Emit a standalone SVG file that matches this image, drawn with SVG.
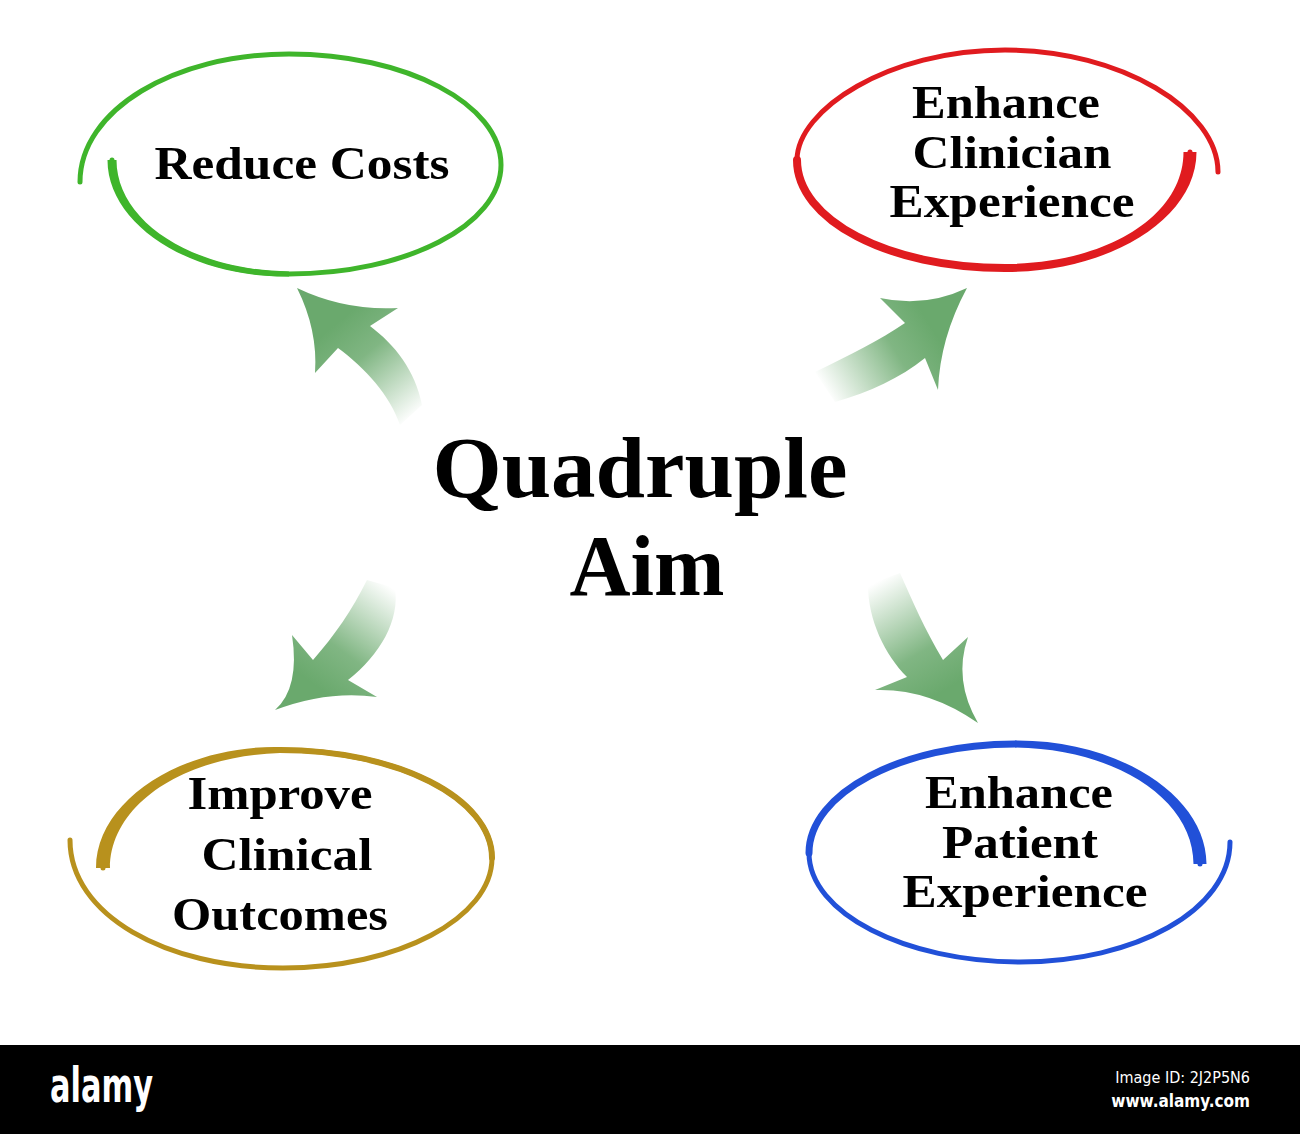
<svg xmlns="http://www.w3.org/2000/svg" width="1300" height="1134" viewBox="0 0 1300 1134">
<style>
.lbl{font-family:"Liberation Serif","Times New Roman",serif;font-weight:bold;fill:#000;text-anchor:middle}
.node{font-size:47px}
.ring{fill:none;stroke-linecap:round;stroke-linejoin:round}
.arrow{stroke:none}
.foot{font-family:"DejaVu Sans Condensed","DejaVu Sans",sans-serif;fill:#fff}
</style>
<defs>
<linearGradient id="g1" gradientUnits="userSpaceOnUse" x1="335" y1="325" x2="412" y2="418">
<stop offset="0" stop-color="#6aa96d" stop-opacity="1"/><stop offset="0.35" stop-color="#6aa96d" stop-opacity="0.85"/><stop offset="1" stop-color="#6aa96d" stop-opacity="0"/>
</linearGradient>
<linearGradient id="g2" gradientUnits="userSpaceOnUse" x1="930" y1="325" x2="825" y2="390">
<stop offset="0" stop-color="#6aa96d" stop-opacity="1"/><stop offset="0.35" stop-color="#6aa96d" stop-opacity="0.85"/><stop offset="1" stop-color="#6aa96d" stop-opacity="0"/>
</linearGradient>
<linearGradient id="g3" gradientUnits="userSpaceOnUse" x1="315" y1="685" x2="388" y2="585">
<stop offset="0" stop-color="#6aa96d" stop-opacity="1"/><stop offset="0.35" stop-color="#6aa96d" stop-opacity="0.85"/><stop offset="1" stop-color="#6aa96d" stop-opacity="0"/>
</linearGradient>
<linearGradient id="g4" gradientUnits="userSpaceOnUse" x1="945" y1="690" x2="880" y2="580">
<stop offset="0" stop-color="#6aa96d" stop-opacity="1"/><stop offset="0.35" stop-color="#6aa96d" stop-opacity="0.85"/><stop offset="1" stop-color="#6aa96d" stop-opacity="0"/>
</linearGradient>
</defs>
<rect x="0" y="0" width="1300" height="1134" fill="#fff"/>

<g id="connectors">
<path class="arrow" fill="url(#g1)" d="M297,288 Q345,311 398,308 L370,326 C395,345 415,370 422,405 L400,425 C390,395 365,368 338,348 L315,373 Q318,330 297,288 Z"/>
<path class="arrow" fill="url(#g2)" d="M967,288 Q925,308 880,298 L905,323 C880,340 850,355 815,372 L835,402 C870,392 900,378 925,358 L938,390 Q940,338 967,288 Z"/>
<path class="arrow" fill="url(#g3)" d="M275,710 Q300,688 292,635 L313,660 C335,635 352,610 367,580 L395,588 C400,620 380,655 348,680 L377,697 Q328,690 275,710 Z"/>
<path class="arrow" fill="url(#g4)" d="M978,723 Q953,680 968,637 L943,660 C925,630 912,600 900,573 L868,585 C868,620 885,655 907,677 L875,690 Q928,688 978,723 Z"/>
</g>

<g id="center">
<text class="lbl" x="640" y="497" font-size="86" textLength="415" lengthAdjust="spacingAndGlyphs">Quadruple</text>
<text class="lbl" x="647" y="595" font-size="86" textLength="155" lengthAdjust="spacingAndGlyphs">Aim</text>
</g>

<g id="reduce-costs">
<path class="ring" stroke="#3fb52b" stroke-width="5" d="M80,182 C80,110 174,54 289,54 C406,54 501,104 501,165 C501,225 406,274 289,274 C191,274 112,223 112,160"/>
<path fill="#3fb52b" d="M289,276.5 C191,278 107.5,225 107.5,160 L116.5,160 C116.5,221 191,270 289,271.5 Z"/>
<text class="lbl node" x="302" y="179" textLength="295" lengthAdjust="spacingAndGlyphs">Reduce Costs</text>
</g>

<g id="enhance-clinician">
<path class="ring" stroke="#e01b1f" stroke-width="5" d="M1218,172 C1218,110 1122,50 1005,50 C888,50 797,110 797,160 C797,220 888,268 1005,268 C1107,268 1190,218 1190,152"/>
<path class="ring" stroke="#e01b1f" stroke-width="8" d="M797,160 C797,220 888,268 1005,268"/>
<path fill="#e01b1f" d="M1005,272 C1107,272.5 1196.5,220 1196.5,152 L1183.5,152 C1183.5,216 1107,263.5 1005,264 Z"/>
<text class="lbl node" x="1006" y="118" textLength="188" lengthAdjust="spacingAndGlyphs">Enhance</text>
<text class="lbl node" x="1012" y="168" textLength="199" lengthAdjust="spacingAndGlyphs">Clinician</text>
<text class="lbl node" x="1012" y="217" textLength="245" lengthAdjust="spacingAndGlyphs">Experience</text>
</g>

<g id="improve-outcomes">
<path class="ring" stroke="#b8911d" stroke-width="5" d="M70,840 C70,915 166,968 283,968 C398,968 492,918 492,858 C492,798 397,750 280,750 C183,750 103,802 103,868"/>
<path class="ring" stroke="#b8911d" stroke-width="6" d="M492,858 C492,798 397,750 280,750"/>
<path fill="#b8911d" d="M280,747 C183,745 96,800 96,868 L110,868 C110,805 183,756 280,753 Z"/>
<text class="lbl node" x="280" y="809" textLength="185" lengthAdjust="spacingAndGlyphs">Improve</text>
<text class="lbl node" x="287" y="870" textLength="171" lengthAdjust="spacingAndGlyphs">Clinical</text>
<text class="lbl node" x="280" y="930" textLength="216" lengthAdjust="spacingAndGlyphs">Outcomes</text>
</g>

<g id="enhance-patient">
<path class="ring" stroke="#2150d8" stroke-width="5" d="M1230,842 C1230,910 1135,962 1020,962 C905,962 809,913 809,853 C809,793 902,744 1015,744 C1117,744 1200,797 1200,864"/>
<path class="ring" stroke="#2150d8" stroke-width="7" d="M809,853 C809,793 902,744 1015,744"/>
<path fill="#2150d8" d="M1015,740.5 C1117,739.5 1206.5,795 1206.5,864 L1193.5,864 C1193.5,800 1117,749 1015,747.5 Z"/>
<text class="lbl node" x="1019" y="808" textLength="188" lengthAdjust="spacingAndGlyphs">Enhance</text>
<text class="lbl node" x="1020" y="858" textLength="156" lengthAdjust="spacingAndGlyphs">Patient</text>
<text class="lbl node" x="1025" y="907" textLength="245" lengthAdjust="spacingAndGlyphs">Experience</text>
</g>

<g id="footer">
<rect x="0" y="1045" width="1300" height="89" fill="#000"/>
<text class="foot" x="50" y="1102" font-size="48" font-weight="bold" textLength="103" lengthAdjust="spacingAndGlyphs">alamy</text>
<text class="foot" x="1250" y="1083" font-size="16" text-anchor="end">Image ID: 2J2P5N6</text>
<text class="foot" x="1250" y="1107" font-size="17" font-weight="bold" text-anchor="end">www.alamy.com</text>
</g>
</svg>
